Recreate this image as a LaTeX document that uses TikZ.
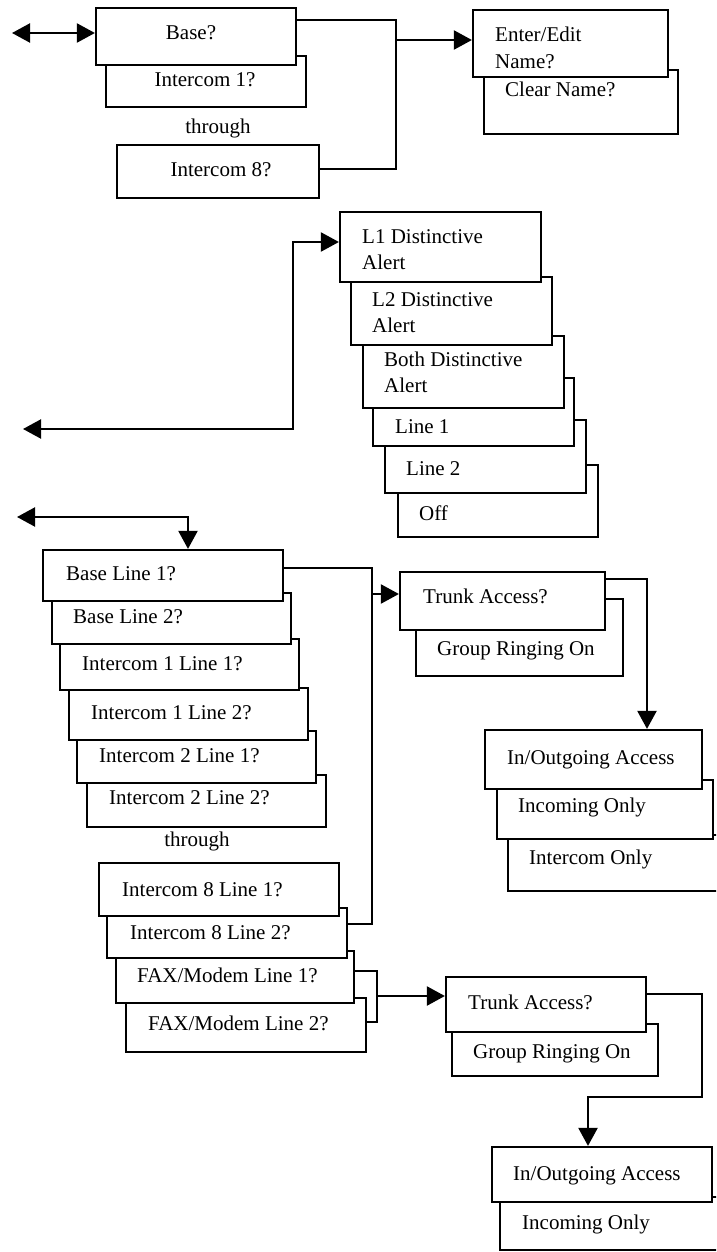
\documentclass[tikz,border=0pt]{standalone}
\usepackage{fontspec}
\setmainfont{Liberation Serif}
\usetikzlibrary{arrows.meta}

\begin{document}
\begin{tikzpicture}[x=1pt, y=-1pt,
  menubox/.style={draw, fill=white, line width=2.2pt, inner sep=0pt},
  menutext/.style={anchor=base west, inner sep=0pt, align=left, font=\fontsize{21}{26}\selectfont},
  midtext/.style={menutext, anchor=base, align=center},
  link/.style={line width=2.2pt},
  >={Triangle[length=18pt, width=19pt]}]

\clip (0,0) rectangle (716,1252);

% station select
\node[menubox, minimum width=202, minimum height=53] (icom8) at (218,171.5) {};
\node[midtext] (icom8-t) at (221,177) {Intercom 8?};
\node[midtext] (thru1) at (218,134) {through};
\node[menubox, minimum width=200, minimum height=51] (icom1) at (206,81.5) {};
\node[midtext] (icom1-t) at (205,87) {Intercom 1?};
\node[menubox, minimum width=200, minimum height=57] (base) at (196,36.5) {};
\node[midtext] (base-t) at (191,40) {Base?};

\node[menubox, minimum width=194, minimum height=64] (clear) at (581,102) {};
\node[menutext] (clear-t) at (505,97) {Clear Name?};
\node[menubox, minimum width=195, minimum height=67] (enter) at (570.5,43.5) {};
\node[menutext, font=\fontsize{21}{27}\selectfont] (enter-t) at (495,69) {Enter/Edit\\Name?};

% distinctive alert
\node[menubox, minimum width=200, minimum height=72] (off) at (498,501) {};
\node[menutext] (off-t) at (419,520) {Off};
\node[menubox, minimum width=201, minimum height=73] (line2) at (485.5,456.5) {};
\node[menutext] (line2-t) at (406,475) {Line 2};
\node[menubox, minimum width=201, minimum height=68] (line1) at (473.5,412) {};
\node[menutext] (line1-t) at (395,433) {Line 1};
\node[menubox, minimum width=201, minimum height=72] (both) at (463.5,372) {};
\node[menutext] (both-t) at (384,392) {Both Distinctive\\Alert};
\node[menubox, minimum width=201, minimum height=68] (l2) at (451.5,311) {};
\node[menutext] (l2-t) at (372,332) {L2 Distinctive\\Alert};
\node[menubox, minimum width=201, minimum height=70] (l1) at (440.5,247) {};
\node[menutext] (l1-t) at (362,269) {L1 Distinctive\\Alert};

% line select
\node[menubox, minimum width=239, minimum height=52] (i2l2) at (206.5,801) {};
\node[menutext] (i2l2-t) at (109,804) {Intercom 2 Line 2?};
\node[menubox, minimum width=239, minimum height=52] (i2l1) at (196.5,757) {};
\node[menutext] (i2l1-t) at (99,762) {Intercom 2 Line 1?};
\node[menubox, minimum width=239, minimum height=52] (i1l2) at (188.5,714) {};
\node[menutext] (i1l2-t) at (91,719) {Intercom 1 Line 2?};
\node[menubox, minimum width=239, minimum height=51] (i1l1) at (179.5,664.5) {};
\node[menutext] (i1l1-t) at (82,670) {Intercom 1 Line 1?};
\node[menubox, minimum width=239, minimum height=51] (bl2) at (171.5,618.5) {};
\node[menutext] (bl2-t) at (73,623) {Base Line 2?};
\node[menubox, minimum width=240, minimum height=51] (bl1) at (163,575.5) {};
\node[menutext] (bl1-t) at (66,580) {Base Line 1?};
\node[midtext] (thru2) at (197,846) {through};

\node[menubox, minimum width=240, minimum height=54] (fax2) at (246,1025) {};
\node[menutext] (fax2-t) at (148,1030) {FAX/Modem Line 2?};
\node[menubox, minimum width=238, minimum height=52] (fax1) at (235,977) {};
\node[menutext] (fax1-t) at (137,982) {FAX/Modem Line 1?};
\node[menubox, minimum width=240, minimum height=50] (i8l2) at (227,933) {};
\node[menutext] (i8l2-t) at (130,939) {Intercom 8 Line 2?};
\node[menubox, minimum width=240, minimum height=53] (i8l1) at (219,889.5) {};
\node[menutext] (i8l1-t) at (122,896) {Intercom 8 Line 1?};

% trunk access, upper
\node[menubox, minimum width=207, minimum height=77] (group1) at (519.5,637.5) {};
\node[menutext] (group1-t) at (437,655) {Group Ringing On};
\node[menubox, minimum width=205, minimum height=58] (trunk1) at (502.5,601) {};
\node[menutext] (trunk1-t) at (423,603) {Trunk Access?};

\node[menubox, minimum width=222, minimum height=56] (icomonly) at (619,863) {};
\node[menutext] (icomonly-t) at (529,864) {Intercom Only};
\node[menubox, minimum width=216, minimum height=59] (incoming1) at (605,809.5) {};
\node[menutext] (incoming1-t) at (518,812) {Incoming Only};
\node[menubox, minimum width=217, minimum height=59] (inout1) at (593.5,759.5) {};
\node[menutext] (inout1-t) at (507,764) {In/Outgoing Access};

% trunk access, lower
\node[menubox, minimum width=206, minimum height=52] (group2) at (555,1050) {};
\node[menutext] (group2-t) at (473,1058) {Group Ringing On};
\node[menubox, minimum width=200, minimum height=55] (trunk2) at (546,1004.5) {};
\node[menutext] (trunk2-t) at (468,1009) {Trunk Access?};

\node[menubox, minimum width=230, minimum height=53] (incoming2) at (615,1223.5) {};
\node[menutext] (incoming2-t) at (522,1229) {Incoming Only};
\node[menubox, minimum width=220, minimum height=55] (inout2) at (602,1174.5) {};
\node[menutext] (inout2-t) at (513,1180) {In/Outgoing Access};

% connectors
\coordinate (back1) at (12,33);
\coordinate (join1) at (396,40);
\coordinate (back2) at (23,429);
\coordinate (turn2) at (293,242);
\coordinate (back3) at (17,517);
\coordinate (join4) at (372,594);
\coordinate (join5) at (377,996);
\coordinate (turn6) at (702,1097);

\draw[link, <->] (back1) -- (back1 -| base.west);
\draw[link] ([yshift=-13pt]base.north east) -| (join1) |- ([yshift=-25pt]icom8.north east);
\draw[link, ->] (join1) -- (join1 -| enter.west);

\draw[link, <->] (back2) -| (turn2) -- (turn2 -| l1.west);

\draw[link, <->] (back3) -| ([xshift=25pt]bl1.north);
\draw[link] ([yshift=-19pt]bl1.north east) -| (join4) |- ([yshift=-17pt]i8l2.north east);
\draw[link, ->] (join4) -- (join4 -| trunk1.west);
\draw[link, ->] ([yshift=-8pt]trunk1.north east) -| ([xshift=53.5pt]inout1.north);

\draw[link] ([yshift=-21pt]fax1.north east) -| (join5) |- ([yshift=-25pt]fax2.north east);
\draw[link, ->] (join5) -- (join5 -| trunk2.west);
\draw[link, ->] ([yshift=-18pt]trunk2.north east) -| (turn6) -| ([xshift=-14pt]inout2.north);

\end{tikzpicture}
\end{document}
